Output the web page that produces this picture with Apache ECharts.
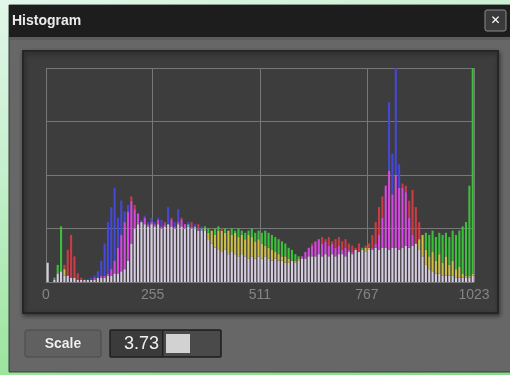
<!DOCTYPE html>
<html>
<head>
<meta charset="utf-8">
<script src="https://cdn.jsdelivr.net/npm/echarts@6/dist/echarts.min.js"></script>
<style>
  html, body { margin: 0; padding: 0; }
  body {
    width: 510px; height: 375px; overflow: hidden;
    background: linear-gradient(165deg, #e2f7ea 0%, #c4efcc 35%, #9ae49c 75%, #86dc88 100%);
  }
  #chart { width: 510px; height: 375px; }
</style>
</head>
<body>
<div id="chart"></div>
<script>
// Levels 0..1023 grouped into bins of 8 levels
const LEVELS = 1024;
const BIN_SIZE = 8;
const tickLevels = [0, 255, 511, 767, 1023];
const scaleValue = '3.73';

// Per-bin counts for each channel (percent of the plot height)
const red = [
  9, 0, 1, 4, 5, 8, 15, 22,
  12, 4, 2, 1, 1, 1, 2, 2,
  3, 3, 4, 6, 10, 16, 22, 28,
  33, 40, 36, 32, 28, 30, 27, 28,
  27, 29, 26, 28, 27, 30, 26, 28,
  30, 27, 26, 28, 25, 27, 24, 25,
  23, 24, 22, 24, 25, 23, 24, 22,
  23, 21, 22, 20, 22, 21, 19, 20,
  18, 17, 16, 15, 14, 13, 12, 12,
  11, 10, 10, 11, 12, 14, 16, 18,
  19, 20, 21, 20, 21, 19, 20, 21,
  19, 20, 18, 17, 16, 18, 15, 17,
  18, 22, 28, 35, 40, 45, 52, 41,
  50, 44, 46, 45, 38, 43, 35, 28,
  22, 15, 12, 14, 10, 13, 9, 12,
  8, 10, 6, 7, 4, 3, 3, 4
];
const green = [
  9, 0, 2, 8, 26, 6, 3, 2,
  2, 1, 1, 1, 1, 1, 1, 2,
  2, 2, 3, 3, 4, 4, 5, 6,
  10, 18, 25, 27, 28, 27, 26, 27,
  26, 27, 25, 26, 27, 26, 25, 27,
  26, 25, 27, 25, 26, 24, 25, 26,
  25, 24, 25, 26, 24, 25, 24, 25,
  24, 25, 24, 23, 24, 25, 23, 24,
  23, 24, 23, 22, 21, 20, 19, 18,
  16, 15, 13, 12, 11, 11, 12, 12,
  12, 13, 12, 13, 12, 13, 12, 13,
  13, 12, 14, 13, 15, 14, 16, 16,
  16, 15, 16, 15, 16, 16, 15, 16,
  16, 15, 16, 17, 16, 17, 18, 20,
  22, 23, 22, 24, 21, 23, 22, 23,
  21, 24, 22, 24, 26, 28, 45, 100
];
const blue = [
  9, 0, 1, 4, 5, 3, 3, 2,
  2, 1, 1, 1, 1, 2, 3, 5,
  10, 18, 28, 35, 44, 30, 38, 33,
  36, 38, 34, 32, 29, 31, 28, 30,
  28, 30, 29, 27, 35, 29, 28, 34,
  29, 27, 28, 26, 27, 25, 26, 24,
  20, 18, 16, 15, 14, 15, 13, 14,
  13, 12, 13, 12, 11, 12, 11, 12,
  11, 12, 11, 10, 11, 10, 10, 9,
  9, 10, 9, 10, 12, 14, 16, 17,
  19, 20, 18, 19, 17, 18, 16, 17,
  15, 16, 15, 14, 15, 14, 15, 14,
  15, 16, 18, 22, 30, 45, 84, 60,
  100, 55, 44, 42, 30, 22, 18, 15,
  12, 8, 6, 5, 4, 4, 3, 3,
  3, 3, 2, 2, 2, 2, 2, 3
];

// Channel light contributions, added on top of the panel tone
const PANEL = 60;
const channelRGB = [[145, 0, 10], [0, 132, 0], [10, 12, 155]];
function mix(channels) {
  const c = [PANEL, PANEL, PANEL];
  channels.forEach(k => { for (let j = 0; j < 3; j++) c[j] += channelRGB[k][j]; });
  return 'rgb(' + c.map(v => Math.min(255, v)).join(',') + ')';
}

const levelNames = [];
for (let i = 0; i < LEVELS; i++) levelNames.push(String(i));

const rows = red.map((r, i) => [i * BIN_SIZE + BIN_SIZE / 2, r, green[i], blue[i]]);

const isTick = (index) => tickLevels.indexOf(index) !== -1;
const gridColor = '#777777';

const chart = echarts.init(document.getElementById('chart'), null, { renderer: 'canvas' });

chart.setOption({
  backgroundColor: 'transparent',
  animation: false,
  grid: { left: 46, top: 68, width: 428, height: 214, containLabel: false },
  xAxis: {
    type: 'category',
    data: levelNames,
    boundaryGap: false,
    axisLine: { show: true, lineStyle: { color: gridColor, width: 1 } },
    axisTick: { show: false },
    axisLabel: {
      interval: (index) => isTick(index),
      color: '#858585',
      fontFamily: 'Liberation Sans',
      fontSize: 14,
      margin: 6,
      showMinLabel: true,
      showMaxLabel: true
    },
    splitLine: { show: true, interval: (index) => isTick(index), lineStyle: { color: gridColor, width: 1 } }
  },
  yAxis: {
    type: 'value',
    min: 0,
    max: 100,
    interval: 25,
    axisLine: { show: false },
    axisTick: { show: false },
    axisLabel: { show: false },
    splitLine: { show: true, lineStyle: { color: gridColor, width: 1 } }
  },
  series: [{
    type: 'custom',
    coordinateSystem: 'cartesian2d',
    data: rows,
    encode: { x: 0, y: [1, 2, 3] },
    clip: true,
    renderItem: function (params, api) {
      const lvl = api.value(0);
      const vals = [api.value(1), api.value(2), api.value(3)];
      const order = [0, 1, 2].sort((a, b) => vals[a] - vals[b]);
      const x0 = api.coord([0, 0])[0];
      const x1 = api.coord([LEVELS - 1, 0])[0];
      const w = (x1 - x0) / (LEVELS - 1) * BIN_SIZE * 0.62;
      const segs = [
        { lo: 0, hi: vals[order[0]], ch: [order[0], order[1], order[2]] },
        { lo: vals[order[0]], hi: vals[order[1]], ch: [order[1], order[2]] },
        { lo: vals[order[1]], hi: vals[order[2]], ch: [order[2]] }
      ];
      const children = [];
      segs.forEach(s => {
        if (s.hi <= s.lo) return;
        const pLo = api.coord([lvl, s.lo]);
        const pHi = api.coord([lvl, s.hi]);
        children.push({
          type: 'rect',
          shape: { x: pLo[0] - w / 2, y: pHi[1], width: w, height: pLo[1] - pHi[1] },
          style: { fill: mix(s.ch) }
        });
      });
      return { type: 'group', children: children };
    }
  }],
  graphic: [
    // window body
    { type: 'rect', z: -20, shape: { x: 9, y: 5, width: 502, height: 367 },
      style: { fill: '#676767', stroke: '#3c3c3c', lineWidth: 1 } },
    // title bar
    { type: 'rect', z: -19, shape: { x: 9, y: 5, width: 502, height: 32 },
      style: { fill: '#1d1d1d' } },
    { type: 'rect', z: -19, shape: { x: 10, y: 37, width: 500, height: 3 },
      style: { fill: '#5c5c5c' } },
    { type: 'text', z: -18, x: 12, y: 21,
      style: { text: 'Histogram', fill: '#ebebeb', font: 'bold 14px "Liberation Sans"', verticalAlign: 'middle' } },
    // close button
    { type: 'rect', z: -18, shape: { x: 485, y: 10, width: 21, height: 21, r: 2 },
      style: { fill: '#3a3a3a', stroke: '#8c8c8c', lineWidth: 1 } },
    { type: 'text', z: -17, x: 495.5, y: 21,
      style: { text: '✕', fill: '#ffffff', font: 'bold 12px "DejaVu Sans"', align: 'center', verticalAlign: 'middle' } },
    // chart panel
    { type: 'rect', z: -16, shape: { x: 23, y: 51, width: 475, height: 262 },
      style: { fill: '#3d3d3d', stroke: '#262626', lineWidth: 2,
               shadowColor: 'rgba(0,0,0,0.45)', shadowBlur: 4, shadowOffsetX: 1, shadowOffsetY: 2 } },
    // Scale button
    { type: 'rect', z: -16, shape: { x: 25, y: 330, width: 76, height: 27, r: 2 },
      style: { fill: '#606060', stroke: '#4a4a4a', lineWidth: 1 } },
    { type: 'text', z: -15, x: 63, y: 344,
      style: { text: 'Scale', fill: '#f2f2f2', font: 'bold 14px "Liberation Sans"', align: 'center', verticalAlign: 'middle',
               textShadowColor: 'rgba(0,0,0,0.5)', textShadowBlur: 1 } },
    // value box with slider
    { type: 'rect', z: -16, shape: { x: 110, y: 330, width: 111, height: 27, r: 1 },
      style: { fill: '#3b3b3b', stroke: '#1f1f1f', lineWidth: 1.5 } },
    { type: 'rect', z: -15, shape: { x: 163, y: 331, width: 57, height: 25 },
      style: { fill: '#4a4a4a' } },
    { type: 'rect', z: -15, shape: { x: 162, y: 331, width: 1.5, height: 25 },
      style: { fill: '#1f1f1f' } },
    { type: 'rect', z: -14, shape: { x: 166, y: 334, width: 24, height: 19 },
      style: { fill: '#d2d2d2' } },
    { type: 'text', z: -14, x: 159, y: 344,
      style: { text: scaleValue, fill: '#f0f0f0', font: '18px "Liberation Sans"', align: 'right', verticalAlign: 'middle' } }
  ]
});
</script>
</body>
</html>
